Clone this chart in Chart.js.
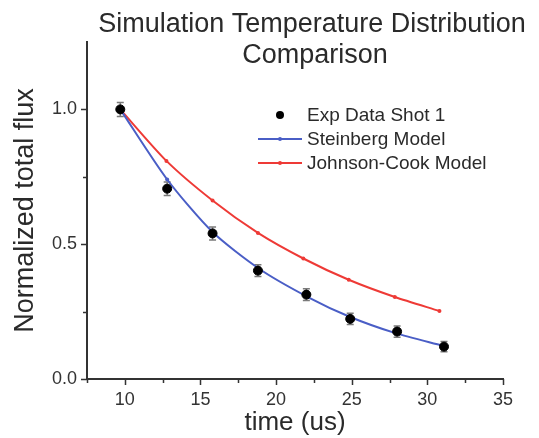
<!DOCTYPE html>
<html>
<head>
<meta charset="utf-8">
<script src="https://cdn.jsdelivr.net/npm/chart.js@4.4.1/dist/chart.umd.min.js"></script>
<style>
  html, body { margin: 0; padding: 0; background: #fff; }
  #wrap { width: 539px; height: 438px; position: relative; }
</style>
</head>
<body>
<div id="wrap"><canvas id="fluxChart"></canvas></div>
<script>
// ## DATA ##
const timeExp = [9.7, 12.8, 15.8, 18.8, 22.0, 24.9, 28.0, 31.1];
const fluxExp = [1.0, 0.706, 0.54, 0.402, 0.313, 0.223, 0.176, 0.12];
const errExp = [0.026, 0.025, 0.024, 0.022, 0.022, 0.021, 0.021, 0.019];

const timeSteinberg = [9.7, 12.8, 15.8, 18.9, 22.1, 24.9, 27.9, 31.0];
const fluxSteinberg = [1.0, 0.74, 0.545, 0.408, 0.304, 0.23, 0.17, 0.124];

const timeJohnsonCook = [9.7, 12.75, 15.8, 18.8, 21.8, 24.8, 27.85, 30.8];
const fluxJohnsonCook = [1.0, 0.809, 0.662, 0.542, 0.447, 0.368, 0.304, 0.252];

const seriesNames = ["Exp Data Shot 1", "Steinberg Model", "Johnson-Cook Model"];
const titleLines = ["Simulation Temperature Distribution", "Comparison"];
const xMajorTicks = [10, 15, 20, 25, 30, 35];
const yMajorTicks = [0.0, 0.5, 1.0];

const FONT = "'Liberation Sans', Arial, sans-serif";
const INK = "#2a2a2a";
const BLUE = "#4a5ec6";
const RED = "#ee3a36";

function toPoints(xs, ys) {
  return xs.map((x, i) => ({ x: x, y: ys[i] }));
}

// error bars, title, minor ticks and legend
const extrasPlugin = {
  id: "extras",
  beforeDatasetsDraw(chart) {
    const ctx = chart.ctx;
    const xs = chart.scales.x;
    const ys = chart.scales.y;
    ctx.save();
    ctx.strokeStyle = "#7a7a7a";
    ctx.lineWidth = 1.5;
    timeExp.forEach((t, i) => {
      const px = xs.getPixelForValue(t);
      const top = ys.getPixelForValue(fluxExp[i] + errExp[i]);
      const bot = ys.getPixelForValue(fluxExp[i] - errExp[i]);
      ctx.beginPath();
      ctx.moveTo(px, top);
      ctx.lineTo(px, bot);
      ctx.moveTo(px - 3.5, top);
      ctx.lineTo(px + 3.5, top);
      ctx.moveTo(px - 3.5, bot);
      ctx.lineTo(px + 3.5, bot);
      ctx.stroke();
    });
    ctx.restore();
  },
  afterDraw(chart) {
    const ctx = chart.ctx;
    const xs = chart.scales.x;
    const ys = chart.scales.y;
    const area = chart.chartArea;
    ctx.save();

    // tick marks
    ctx.strokeStyle = "#333";
    ctx.lineWidth = 1.5;
    ctx.beginPath();
    for (let v = 7.5; v <= 35.001; v += 2.5) {
      const px = Math.round(xs.getPixelForValue(v)) + 0.5;
      const len = xMajorTicks.includes(v) ? 6 : 4;
      ctx.moveTo(px, area.bottom);
      ctx.lineTo(px, area.bottom + len);
    }
    for (let v = 0; v <= 1.0001; v += 0.25) {
      const py = Math.round(ys.getPixelForValue(v)) + 0.5;
      const len = yMajorTicks.includes(v) ? 6 : 4;
      ctx.moveTo(area.left, py);
      ctx.lineTo(area.left - len, py);
    }
    ctx.stroke();

    // title
    ctx.fillStyle = INK;
    ctx.font = "27px " + FONT;
    ctx.textAlign = "center";
    ctx.textBaseline = "alphabetic";
    ctx.fillText(titleLines[0], 312, 32);
    ctx.fillText(titleLines[1], 315, 63);

    // legend
    const lx = 258, lw = 44, tx = 307;
    const rows = [115, 139, 163];
    ctx.font = "19px " + FONT;
    ctx.textAlign = "left";
    ctx.textBaseline = "middle";
    ctx.fillStyle = "#000";
    ctx.beginPath();
    ctx.arc(lx + lw / 2, rows[0], 4, 0, Math.PI * 2);
    ctx.fill();
    [[BLUE, rows[1]], [RED, rows[2]]].forEach(([c, y]) => {
      ctx.strokeStyle = c;
      ctx.fillStyle = c;
      ctx.lineWidth = 2;
      ctx.beginPath();
      ctx.moveTo(lx, y);
      ctx.lineTo(lx + lw, y);
      ctx.stroke();
      ctx.beginPath();
      ctx.arc(lx + lw / 2, y, 2, 0, Math.PI * 2);
      ctx.fill();
    });
    ctx.fillStyle = INK;
    seriesNames.forEach((name, i) => ctx.fillText(name, tx, rows[i] + 1));
    ctx.restore();
  },
};

const ctx = document.getElementById("fluxChart").getContext("2d");

window.fluxChart = new Chart(ctx, {
  type: "scatter",
  data: {
    datasets: [
      {
        label: seriesNames[0],
        data: toPoints(timeExp, fluxExp),
        backgroundColor: "#000",
        borderColor: "#000",
        pointRadius: 4.5,
        showLine: false,
      },
      {
        label: seriesNames[1],
        data: toPoints(timeSteinberg, fluxSteinberg),
        backgroundColor: BLUE,
        borderColor: BLUE,
        borderWidth: 2,
        pointRadius: 2,
        pointBorderWidth: 0,
        showLine: true,
        tension: 0.25,
      },
      {
        label: seriesNames[2],
        data: toPoints(timeJohnsonCook, fluxJohnsonCook),
        backgroundColor: RED,
        borderColor: RED,
        borderWidth: 2,
        pointRadius: 2,
        pointBorderWidth: 0,
        showLine: true,
        tension: 0.25,
      },
    ],
  },
  options: {
    responsive: true,
    maintainAspectRatio: false,
    animation: false,
    layout: {
      padding: { top: 42, right: 36, left: 0, bottom: 0 },
    },
    plugins: {
      legend: { display: false },
      tooltip: { enabled: false },
    },
    scales: {
      x: {
        type: "linear",
        min: 7.5,
        max: 35,
        afterFit: (scale) => { scale.height = 59; },
        grid: { display: false, drawTicks: false },
        border: { display: true, color: "#333", width: 2 },
        ticks: {
          stepSize: 2.5,
          padding: 10,
          color: "#333",
          font: { family: FONT, size: 18 },
          maxRotation: 0,
          autoSkip: false,
          callback: (v) => (xMajorTicks.includes(v) ? String(v) : ""),
        },
        title: {
          display: true,
          text: "time (us)",
          color: INK,
          font: { family: FONT, size: 26 },
          padding: { top: 0, bottom: 0 },
        },
      },
      y: {
        type: "linear",
        min: 0,
        max: 1.25,
        afterFit: (scale) => { scale.width = 87; },
        grid: { display: false, drawTicks: false },
        border: { display: true, color: "#333", width: 2 },
        ticks: {
          stepSize: 0.25,
          padding: 10,
          color: "#333",
          font: { family: FONT, size: 18 },
          autoSkip: false,
          callback: (v) => (yMajorTicks.includes(v) ? v.toFixed(1) : ""),
        },
        title: {
          display: true,
          text: "Normalized total flux",
          color: INK,
          font: { family: FONT, size: 27 },
          padding: { top: 9, bottom: 0 },
        },
      },
    },
  },
  plugins: [extrasPlugin],
});
</script>
</body>
</html>
